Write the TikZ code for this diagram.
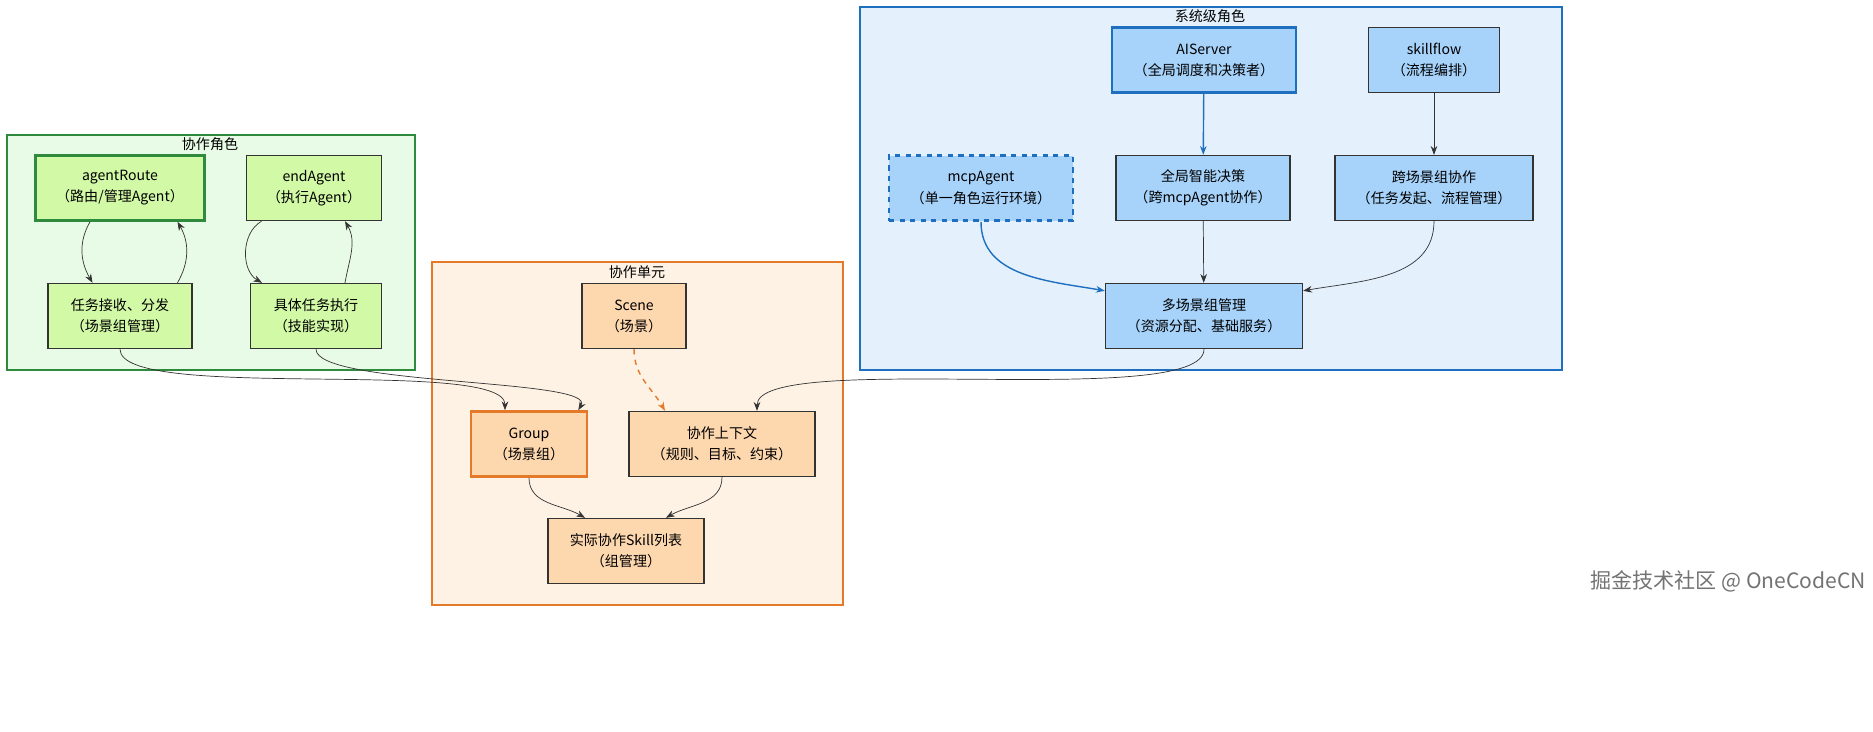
\documentclass[tikz,border=0pt]{standalone}
\usepackage{fontspec}
\setmainfont{Noto Sans CJK SC}
\usetikzlibrary{arrows.meta}
\definecolor{gline}{HTML}{2E8B3E}
\definecolor{gfill}{HTML}{E8FBE6}
\definecolor{gbox}{HTML}{D2F9A6}
\definecolor{oline}{HTML}{E5792A}
\definecolor{ofill}{HTML}{FEF2E4}
\definecolor{obox}{HTML}{FDD7AE}
\definecolor{bline}{HTML}{1F6FC0}
\definecolor{bfill}{HTML}{E4F1FD}
\definecolor{bbox}{HTML}{A7D3FB}
\tikzset{
  box/.style={draw=black!80,thick,align=center,minimum height=1.3cm,inner sep=1pt,
    font=\fontsize{8}{12}\selectfont},
  gnode/.style={box,fill=gbox},
  onode/.style={box,fill=obox},
  bnode/.style={box,fill=bbox},
  area/.style={thick},
  title/.style={font=\fontsize{8}{10}\selectfont},
  link/.style={-{Stealth[length=5pt]},black!80,thin},
}
\begin{document}
\begin{tikzpicture}[x=0.02cm,y=-0.02cm]
  \useasboundingbox (0,0) rectangle (1873,731);
  % containers
  \draw[area,draw=gline,fill=gfill] (7,135) rectangle (415,370);
  \node[title] (tg) at (210,144) {协作角色};
  \draw[area,draw=oline,fill=ofill] (432,262) rectangle (843,605);
  \node[title] (to) at (637,272) {协作单元};
  \draw[area,draw=bline,fill=bfill] (860,7) rectangle (1562,370);
  \node[title] (tb) at (1210,16) {系统级角色};
  % roles
  \node[gnode,draw=gline,line width=1.5pt,minimum width=3.38cm] (route) at (120,188) {agentRoute\\（路由/管理Agent）};
  \node[gnode,minimum width=2.7cm] (end) at (314,188) {endAgent\\（执行Agent）};
  \node[gnode,minimum width=2.88cm] (recv) at (120,316) {任务接收、分发\\（场景组管理）};
  \node[gnode,minimum width=2.62cm] (exec) at (316,316) {具体任务执行\\（技能实现）};
  % unit
  \node[onode,minimum width=2.08cm] (scene) at (634,316) {Scene\\（场景）};
  \node[onode,draw=oline,line width=1.5pt,minimum width=2.32cm] (group) at (529,444) {Group\\（场景组）};
  \node[onode,minimum width=3.72cm] (ctx) at (722,444) {协作上下文\\（规则、目标、约束）};
  \node[onode,minimum width=3.12cm] (skill) at (626,551) {实际协作Skill列表\\（组管理）};
  % system
  \node[bnode,draw=bline,line width=1.5pt,minimum width=3.68cm] (ai) at (1204,60) {AIServer\\（全局调度和决策者）};
  \node[bnode,minimum width=2.62cm] (flow) at (1434,60) {skillflow\\（流程编排）};
  \node[bnode,draw=bline,line width=1.5pt,dashed,minimum width=3.68cm] (mcp) at (981,188) {mcpAgent\\（单一角色运行环境）};
  \node[bnode,minimum width=3.48cm] (decide) at (1203,188) {全局智能决策\\（跨mcpAgent协作）};
  \node[bnode,minimum width=3.96cm] (cross) at (1434,188) {跨场景组协作\\（任务发起、流程管理）};
  \node[bnode,minimum width=3.94cm] (multi) at (1204,316) {多场景组管理\\（资源分配、基础服务）};
  % links
  \draw[link] ([xshift=-0.6cm]route.south) to[out=-120,in=120] ([xshift=-0.55cm]recv.north);
  \draw[link] ([xshift=1.15cm]recv.north) to[out=60,in=-60] ([xshift=1.15cm]route.south);
  \draw[link] ([xshift=-1.05cm]end.south) to[out=-150,in=150] ([xshift=-1.08cm]exec.north);
  \draw[link] ([xshift=0.58cm]exec.north) to[out=80,in=-60] ([xshift=0.62cm]end.south);
  \draw[link] (recv.south) to[out=-90,in=90,looseness=0.35] ([xshift=-0.48cm]group.north);
  \draw[link] (exec.south) to[out=-90,in=60,looseness=0.35] ([xshift=-0.2cm]group.north east);
  \draw[link,oline,thick,dashed] (scene.south) to[out=-90,in=120] ([xshift=-1.14cm]ctx.north);
  \draw[link] (multi.south) to[out=-90,in=90,looseness=0.35] ([xshift=0.7cm]ctx.north);
  \draw[link] (group.south) to[out=-90,in=150] ([xshift=-0.82cm]skill.north);
  \draw[link] (ctx.south) to[out=-90,in=30] ([xshift=0.8cm]skill.north);
  \draw[link,bline,thick] (ai) -- (decide);
  \draw[link] (flow) -- (cross);
  \draw[link,bline,thick] (mcp.south) to[out=-90,in=170] ([yshift=-0.16cm]multi.north west);
  \draw[link] (decide) -- (multi);
  \draw[link] (cross.south) to[out=-90,in=10] ([yshift=-0.16cm]multi.north east);
  % watermark
  \node[text=black!55,font=\fontsize{12}{14}\selectfont] (mark) at (1728,581) {掘金技术社区 @ OneCodeCN};
\end{tikzpicture}
\end{document}
